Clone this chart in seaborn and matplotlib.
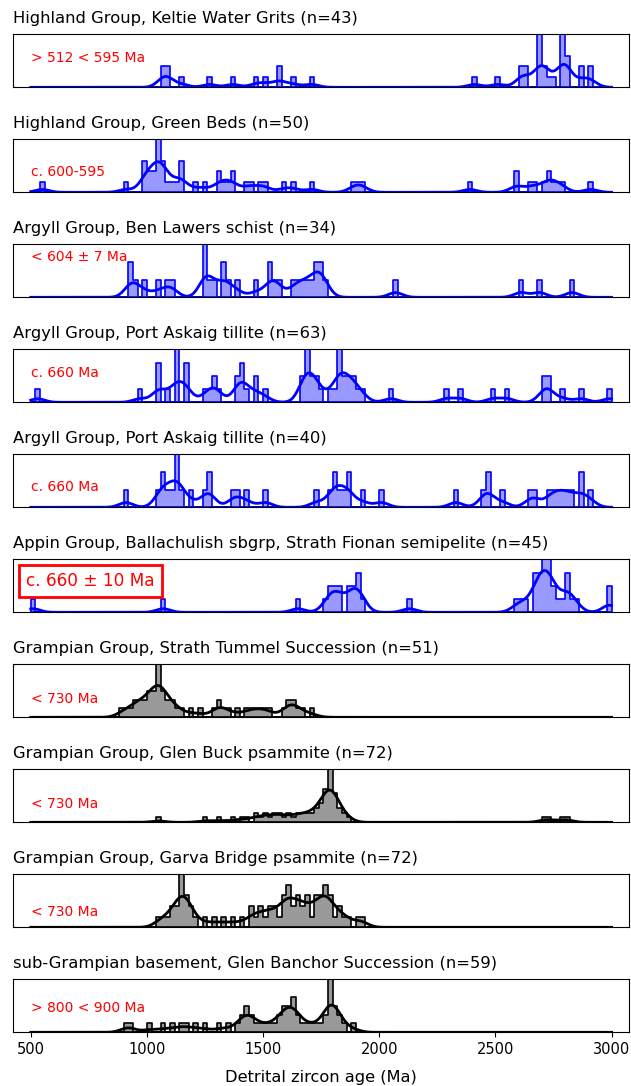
import numpy as np
import matplotlib
matplotlib.use("Agg")
import matplotlib.pyplot as plt
import seaborn as sns

# Histogram settings shared by every sample
BIN_WIDTH = 20
AGE_RANGE = (500, 3000)
KDE_BANDWIDTH = 30  # Ma

titles = [
    "Highland Group, Keltie Water Grits (n=43)",
    "Highland Group, Green Beds (n=50)",
    "Argyll Group, Ben Lawers schist (n=34)",
    "Argyll Group, Port Askaig tillite (n=63)",
    "Argyll Group, Port Askaig tillite (n=40)",
    "Appin Group, Ballachulish sbgrp, Strath Fionan semipelite (n=45)",
    "Grampian Group, Strath Tummel Succession (n=51)",
    "Grampian Group, Glen Buck psammite (n=72)",
    "Grampian Group, Garva Bridge psammite (n=72)",
    "sub-Grampian basement, Glen Banchor Succession (n=59)",
]
notes = [
    "> 512 < 595 Ma", "c. 600-595", "< 604 ± 7 Ma", "c. 660 Ma", "c. 660 Ma",
    "c. 660 ± 10 Ma", "< 730 Ma", "< 730 Ma", "< 730 Ma", "> 800 < 900 Ma",
]
note_y = [0.56, 0.39, 0.76, 0.55, 0.38, 0.59, 0.35, 0.35, 0.29, 0.46]
colors = ["blue"] * 6 + ["black"] * 4

# Grain counts per 20 Ma bin (bin start age in Ma)
keltie_bins = [1060, 1080, 1140, 1260, 1360, 1460, 1500, 1560, 1620, 1700,
               2400, 2500, 2600, 2620, 2680, 2700, 2720, 2740, 2780, 2800, 2860, 2900]
keltie_counts = [2, 2, 1, 1, 1, 1, 1, 2, 1, 1,
                 1, 1, 2, 2, 5, 2, 1, 1, 5, 3, 2, 2]

green_bins = [540, 900, 980, 1000, 1020, 1040, 1060, 1080, 1100, 1120, 1140, 1200, 1240,
              1300, 1320, 1340, 1360, 1420, 1440, 1480, 1500, 1580, 1620, 1700,
              1880, 1900, 1920, 2380, 2580, 2640, 2660, 2700, 2720, 2740, 2760, 2780, 2900]
green_counts = [1, 1, 3, 2, 2, 5, 3, 1, 1, 1, 3, 1, 1,
                2, 1, 1, 2, 1, 1, 1, 1, 1, 1, 1,
                1, 1, 1, 1, 2, 1, 1, 1, 2, 1, 1, 1, 1]

lawers_bins = [920, 940, 980, 1040, 1080, 1100, 1240, 1260, 1280, 1320, 1340, 1380, 1460,
               1520, 1540, 1560, 1620, 1640, 1660, 1680, 1700, 1720, 1740, 1760,
               2060, 2600, 2680, 2820]
lawers_counts = [2, 1, 1, 1, 1, 1, 3, 1, 1, 2, 1, 1, 1,
                 2, 1, 1, 1, 1, 1, 1, 1, 2, 2, 1,
                 1, 1, 1, 1]

askaig63_bins = [520, 960, 1040, 1080, 1120, 1160, 1240, 1260, 1280, 1300, 1380, 1400, 1420,
                 1460, 1500, 1660, 1680, 1700, 1720, 1740, 1780, 1800, 1820, 1840, 1860,
                 1880, 1900, 1920, 2040, 2280, 2340, 2480, 2540, 2700, 2720, 2780, 2860, 2980]
askaig63_counts = [1, 1, 3, 1, 4, 3, 1, 1, 2, 1, 2, 3, 1,
                   2, 1, 2, 4, 2, 2, 1, 1, 1, 4, 2, 2,
                   2, 1, 1, 1, 1, 1, 1, 1, 2, 2, 1, 1, 1]

askaig40_bins = [900, 1040, 1060, 1080, 1100, 1120, 1140, 1180, 1240, 1260, 1360, 1380, 1420,
                 1500, 1720, 1780, 1800, 1820, 1840, 1860, 1920, 2000, 2320, 2440, 2460,
                 2520, 2640, 2660, 2720, 2740, 2760, 2780, 2800, 2820, 2860, 2900]
askaig40_counts = [1, 1, 2, 1, 1, 3, 1, 1, 1, 2, 1, 1, 1,
                   1, 1, 1, 2, 1, 1, 2, 1, 1, 1, 1, 2,
                   1, 1, 1, 1, 1, 1, 1, 1, 1, 2, 1]

fionan_bins = [500, 1060, 1640, 1760, 1780, 1800, 1820, 1860, 1880, 1900, 1920, 2120,
               2580, 2600, 2620, 2660, 2680, 2700, 2720, 2740, 2760, 2780, 2800, 2820, 2840, 2980]
fionan_counts = [1, 1, 1, 1, 2, 2, 2, 2, 2, 3, 1, 1,
                 1, 1, 1, 3, 3, 4, 4, 2, 1, 1, 3, 1, 1, 2]

tummel_bins = [880, 900, 920, 940, 960, 980, 1000, 1020, 1040, 1060, 1080, 1100, 1120, 1140,
               1180, 1220, 1280, 1300, 1320, 1340, 1380, 1420, 1440, 1460, 1480, 1500, 1520,
               1580, 1600, 1620, 1640, 1660, 1700]
tummel_counts = [1, 1, 1, 2, 2, 2, 3, 3, 6, 3, 2, 2, 1, 1,
                 1, 1, 1, 2, 1, 1, 1, 1, 1, 1, 1, 1, 1,
                 1, 2, 2, 1, 1, 1]

buck_bins = [1040, 1240, 1300, 1360, 1400, 1420, 1460, 1480, 1500, 1520, 1540, 1560, 1580,
             1600, 1620, 1640, 1660, 1680, 1700, 1720, 1740, 1760, 1780, 1800, 1820, 1840,
             1860, 2700, 2720, 2780, 2800]
buck_counts = [1, 1, 1, 1, 1, 1, 2, 1, 2, 1, 2, 2, 1,
               2, 1, 2, 2, 2, 2, 3, 4, 7, 11, 6, 3, 2,
               1, 1, 1, 1, 1]

garva_bins = [1040, 1060, 1080, 1100, 1120, 1140, 1160, 1180, 1200,
              1240, 1280, 1320, 1360, 1400,
              1440, 1460, 1480, 1500, 1520, 1540, 1560, 1580, 1600, 1620, 1640, 1660,
              1680, 1700, 1720, 1740, 1760, 1780, 1800, 1820, 1840, 1860, 1900, 1920]
garva_counts = [1, 1, 1, 2, 2, 5, 3, 2, 1,
                1, 1, 1, 1, 1,
                2, 1, 2, 1, 2, 2, 1, 3, 4, 2, 3, 2,
                3, 1, 3, 3, 4, 3, 1, 2, 1, 1, 1, 1]

banchor_bins = [900, 920, 1000, 1060, 1100, 1140, 1160, 1200, 1240, 1300, 1340,
                1380, 1400, 1420, 1440, 1460, 1480, 1500, 1520, 1540, 1560, 1580, 1600,
                1620, 1640, 1660, 1680, 1700, 1720, 1740, 1760, 1780, 1800, 1820, 1840, 1880]
banchor_counts = [1, 1, 1, 1, 1, 1, 1, 1, 1, 1, 1,
                  1, 2, 3, 2, 1, 1, 1, 1, 1, 2, 3, 3,
                  4, 2, 1, 1, 1, 1, 1, 2, 6, 3, 2, 1, 1]

samples = [
    (keltie_bins, keltie_counts),
    (green_bins, green_counts),
    (lawers_bins, lawers_counts),
    (askaig63_bins, askaig63_counts),
    (askaig40_bins, askaig40_counts),
    (fionan_bins, fionan_counts),
    (tummel_bins, tummel_counts),
    (buck_bins, buck_counts),
    (garva_bins, garva_counts),
    (banchor_bins, banchor_counts),
]

W, H = 631, 1086
fig = plt.figure(figsize=(W / 100, H / 100), dpi=100)

panel_tops = [34.3 + 105 * i for i in range(10)]
panel_h = 53
left_px, right_px = 13.3, 629

for i, ((bins, counts), title, note, ny, col) in enumerate(
        zip(samples, titles, notes, note_y, colors)):
    top = panel_tops[i]
    ax = fig.add_axes([left_px / W, 1 - (top + panel_h) / H,
                       (right_px - left_px) / W, panel_h / H])
    ages = np.repeat(np.asarray(bins, dtype=float) + BIN_WIDTH / 2, counts)
    factor = KDE_BANDWIDTH / np.std(ages, ddof=1)
    sns.histplot(
        x=ages, ax=ax, binwidth=BIN_WIDTH, binrange=AGE_RANGE,
        element="step", color=col, alpha=0.4, linewidth=1.2,
        kde=True,
        kde_kws=dict(bw_method=factor, cut=100, clip=AGE_RANGE, gridsize=1000),
        line_kws=dict(lw=2),
    )
    ax.set_xlim(425, 3075)
    ax.margins(y=0)
    ax.set_yticks([])
    ax.set_ylabel("")
    ax.set_title(title, loc="left", fontsize=11.8, pad=8)

    if i == 5:
        ax.text(0.021, ny, note, transform=ax.transAxes, color="red",
                fontsize=12.2, va="center", ha="left",
                bbox=dict(boxstyle="square,pad=0.42", fc="white", ec="red", lw=2))
    else:
        ax.text(0.028, ny, note, transform=ax.transAxes, color="red",
                fontsize=10, va="center", ha="left")

    if i < 9:
        ax.tick_params(axis="x", bottom=False, labelbottom=False)
        ax.set_xlabel("")
    else:
        ax.set_xticks([500, 1000, 1500, 2000, 2500, 3000])
        ax.tick_params(axis="x", labelsize=10.5)
        ax.set_xlabel("Detrital zircon age (Ma)", fontsize=11.7, labelpad=9)

fig.savefig("out.png", dpi=100)
